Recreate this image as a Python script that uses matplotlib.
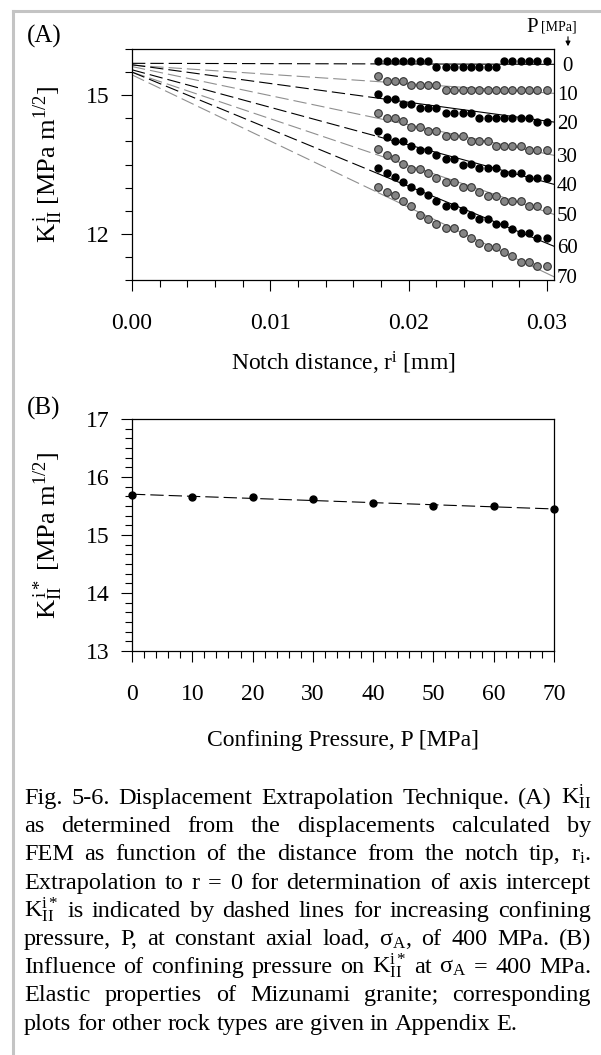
import numpy as np
import matplotlib
matplotlib.use('Agg')
import matplotlib.pyplot as plt
from matplotlib.ticker import MultipleLocator
from matplotlib.lines import Line2D

plt.rcParams['font.family'] = ['Liberation Serif', 'DejaVu Serif']
plt.rcParams['mathtext.fontset'] = 'custom'
plt.rcParams['mathtext.rm'] = 'Liberation Serif'
plt.rcParams['mathtext.it'] = 'Liberation Serif:italic'

# --- data ---
pressures = [0, 10, 20, 30, 40, 50, 60, 70]
r_notch = [0.0178, 0.0184, 0.0190, 0.0196, 0.0202, 0.0208, 0.0214, 0.0220, 0.0227, 0.0233, 0.0239,
           0.0245, 0.0251, 0.0257, 0.0263, 0.0269, 0.0275, 0.0281, 0.0287, 0.0293, 0.0300]
k_p0 = [15.73, 15.73, 15.73, 15.73, 15.73, 15.73, 15.73, 15.61, 15.61, 15.61, 15.61,
        15.61, 15.61, 15.61, 15.61, 15.73, 15.73, 15.73, 15.73, 15.73, 15.73]
k_p10 = [15.42, 15.31, 15.31, 15.31, 15.22, 15.22, 15.22, 15.22, 15.12, 15.12, 15.12,
         15.12, 15.12, 15.12, 15.12, 15.12, 15.12, 15.12, 15.12, 15.12, 15.12]
k_p20 = [15.02, 14.91, 14.91, 14.82, 14.82, 14.72, 14.72, 14.72, 14.61, 14.61, 14.61,
         14.61, 14.50, 14.50, 14.50, 14.50, 14.50, 14.50, 14.50, 14.41, 14.41]
k_p30 = [14.62, 14.51, 14.51, 14.44, 14.32, 14.32, 14.23, 14.23, 14.12, 14.12, 14.12,
         14.01, 14.01, 14.01, 13.90, 13.90, 13.90, 13.90, 13.81, 13.81, 13.81]
k_p40 = [14.22, 14.10, 14.01, 14.01, 13.90, 13.82, 13.82, 13.70, 13.62, 13.62, 13.50,
         13.51, 13.42, 13.42, 13.42, 13.31, 13.31, 13.31, 13.21, 13.21, 13.21]
k_p50 = [13.83, 13.70, 13.64, 13.52, 13.41, 13.41, 13.31, 13.21, 13.12, 13.12, 13.01,
         13.01, 12.90, 12.82, 12.82, 12.71, 12.71, 12.71, 12.60, 12.60, 12.51]
k_p60 = [13.43, 13.32, 13.23, 13.13, 13.02, 12.92, 12.83, 12.72, 12.60, 12.60, 12.51,
         12.40, 12.31, 12.31, 12.22, 12.21, 12.11, 12.01, 12.01, 11.91, 11.91]
k_p70 = [13.02, 12.91, 12.83, 12.71, 12.61, 12.40, 12.31, 12.21, 12.12, 12.12, 12.02,
         11.91, 11.80, 11.72, 11.72, 11.61, 11.51, 11.40, 11.40, 11.30, 11.30]
k_series = [k_p0, k_p10, k_p20, k_p30, k_p40, k_p50, k_p60, k_p70]

# intercepts (panel B) and slopes of the extrapolation lines
k_star = [15.69, 15.65, 15.66, 15.62, 15.55, 15.50, 15.50, 15.44]
fit_slopes = [-0.7, -20.0, -40.7, -63.0, -81.3, -101.0, -123.6, -143.3]

caption_lines = [
    r'Fig. 5-6. Displacement Extrapolation Technique. (A) $\mathregular{K^{i}_{II}}$',
    'as determined from the displacements calculated by',
    r'FEM as function of the distance from the notch tip, r$\mathregular{_{i}}$.',
    'Extrapolation to r = 0 for determination of axis intercept',
    r'$\mathregular{K^{i*}_{II}}$ is indicated by dashed lines for increasing confining',
    r'pressure, P, at constant axial load, σ$\mathregular{_{A}}$, of 400 MPa. (B)',
    r'Influence of confining pressure on $\mathregular{K^{i*}_{II}}$ at σ$\mathregular{_{A}}$ = 400 MPa.',
    'Elastic properties of Mizunami granite; corresponding',
    'plots for other rock types are given in Appendix E.',
]

W, H = 601, 1055
fig = plt.figure(figsize=(W / 100, H / 100), dpi=100)


def fx(px):
    return px / W


def fy(py):
    return 1 - py / H


dash = (0, (12, 4.5))
tick_fs = 17
xmax_a = 0.0305

# ---------------- panel A ----------------
ax = fig.add_axes([fx(132), fy(280), fx(554) - fx(132), fy(49) - fy(280)])
for i, p in enumerate(pressures):
    dark = i % 2 == 0
    lc = 'black' if dark else '#8f8f8f'
    k0, s = k_star[i], fit_slopes[i]
    xd = np.array([0, r_notch[0]])
    xs = np.array([r_notch[0], xmax_a])
    ax.plot(xd, k0 + s * xd, color=lc, lw=0.8, ls=dash)
    ax.plot(xs, k0 + s * xs, color=lc, lw=0.8)
    if dark:
        ax.plot(r_notch, k_series[i], 'o', ms=5, mfc='black', mec='black', zorder=3)
    else:
        ax.plot(r_notch, k_series[i], 'o', ms=5.5, mfc='#858585', mec='#333333', mew=0.8, zorder=3)
    ax.annotate(str(p), xy=(xmax_a, k0 + s * xmax_a), xytext=(9.5, -1.5), textcoords='offset points',
                ha='center', va='center', fontsize=15, annotation_clip=False)

ax.set_xlim(0, xmax_a)
ax.set_ylim(11, 16)
ax.set_xticks([0, 0.01, 0.02, 0.03])
ax.set_xticklabels(['0.00', '0.01', '0.02', '0.03'])
ax.set_yticks([12, 15])
ax.xaxis.set_minor_locator(MultipleLocator(0.002))
ax.yaxis.set_minor_locator(MultipleLocator(0.5))
ax.tick_params(which='major', direction='out', length=8, width=0.8, labelsize=tick_fs)
ax.tick_params(which='minor', direction='out', length=5, width=0.8)
ax.tick_params(axis='x', which='major', pad=16)
ax.tick_params(axis='y', which='major', pad=8)
ax.set_xlabel(r'Notch distance, r$\mathregular{^{i}}$ [mm]', fontsize=17)
ax.xaxis.set_label_coords(0.5, -0.36)
ax.xaxis.label.set_va('center')
ax.set_ylabel(r'$\mathregular{K^{\,i}_{II}}$ [MPa m$\mathregular{^{1/2}}$]', fontsize=19)
ax.yaxis.set_label_coords(-0.199, 0.5)
ax.yaxis.label.set_va('center')
for sp in ax.spines.values():
    sp.set_linewidth(0.9)

fig.text(fx(44), fy(36), '(A)', fontsize=18, ha='center', va='center')
fig.text(fx(532), fy(27), 'P', fontsize=15, ha='center', va='center')
fig.text(fx(541), fy(27), '[MPa]', fontsize=10, ha='left', va='center')
ax.annotate('', xy=(568, H - 49), xytext=(568, H - 34), xycoords='figure pixels',
            textcoords='figure pixels',
            arrowprops=dict(arrowstyle='-|>', lw=0.8, color='black', mutation_scale=7))

# ---------------- panel B ----------------
bx = fig.add_axes([fx(132), fy(651), fx(554) - fx(132), fy(419) - fy(651)])
fit = np.polyfit(pressures, k_star, 1)
xl = np.array([0, 70])
bx.plot(xl, np.polyval(fit, xl), color='black', lw=0.8, ls=dash)
bx.plot(pressures, k_star, 'o', ms=5, color='black', clip_on=False, zorder=3)
bx.set_xlim(0, 70)
bx.set_ylim(13, 17)
bx.set_xticks(pressures)
bx.set_yticks([13, 14, 15, 16, 17])
bx.xaxis.set_minor_locator(MultipleLocator(2))
bx.yaxis.set_minor_locator(MultipleLocator(1 / 6))
bx.tick_params(which='major', direction='out', length=8, width=0.8, labelsize=tick_fs)
bx.tick_params(which='minor', direction='out', length=5, width=0.8)
bx.tick_params(axis='x', which='major', pad=16)
bx.tick_params(axis='y', which='major', pad=8)
bx.set_xlabel('Confining Pressure, P [MPa]', fontsize=17)
bx.xaxis.set_label_coords(0.5, -0.384)
bx.xaxis.label.set_va('center')
bx.set_ylabel(r'$\mathregular{K^{\,i*}_{II}}$ [MPa m$\mathregular{^{1/2}}$]', fontsize=19)
bx.yaxis.set_label_coords(-0.199, 0.5)
bx.yaxis.label.set_va('center')
for sp in bx.spines.values():
    sp.set_linewidth(0.9)
fig.text(fx(44), fy(408), '(B)', fontsize=18, ha='center', va='center')

# ---------------- caption (justified) ----------------
cap_fs = 17.5
renderer = fig.canvas.get_renderer()
x_left, x_right = 24, 591
y0, dy = 804, 28.2
space = cap_fs * 100 / 72 * 0.25
for n, line in enumerate(caption_lines):
    words = line.split(' ')
    base = fy(y0 + n * dy)
    objs = [fig.text(0, base, w, fontsize=cap_fs, va='baseline', ha='left') for w in words]
    widths = [o.get_window_extent(renderer).width for o in objs]
    if n < len(caption_lines) - 1:
        gap = max((x_right - x_left - sum(widths)) / (len(words) - 1), 2)
    else:
        gap = space
    x = x_left
    for o, wd in zip(objs, widths):
        o.set_x(fx(x))
        x += wd + gap

# grey page frame
fig.add_artist(Line2D([fx(13), fx(13)], [0, fy(11)], color='#c4c4c4', lw=2.2, transform=fig.transFigure))
fig.add_artist(Line2D([fx(13), 1], [fy(11), fy(11)], color='#c4c4c4', lw=2.2, transform=fig.transFigure))

fig.savefig('out.png', dpi=100)
